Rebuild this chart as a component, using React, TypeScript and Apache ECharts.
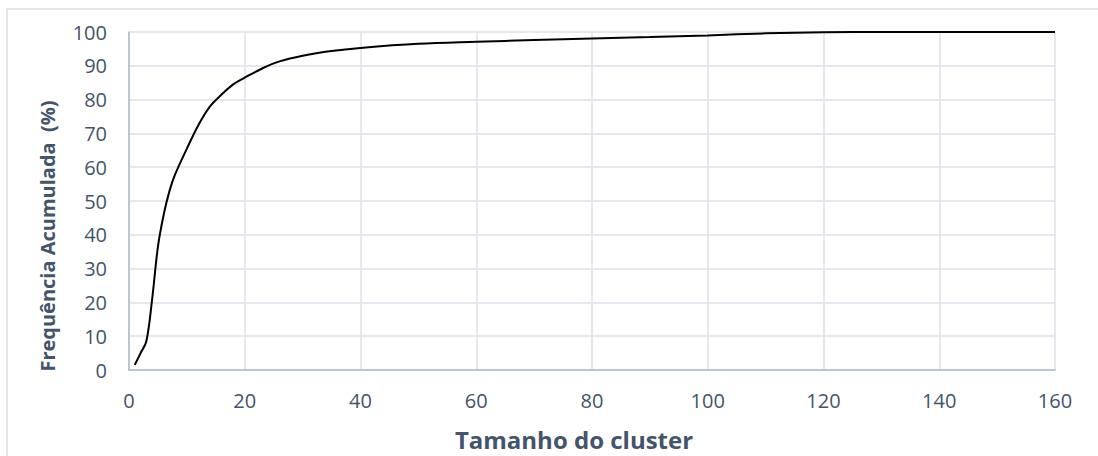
import React, { useEffect, useRef } from "react";
import * as echarts from "echarts";

const clusterSizes = [1, 2, 3, 4, 5, 6, 7, 8, 10, 12, 14, 16, 18, 20, 23, 26, 30, 35, 40, 50, 60, 70, 80, 90, 100, 110, 120, 130, 140, 150, 160];
const cumulativePct = [1.5, 5, 8.5, 21, 36.5, 46, 53, 58, 65.5, 72.5, 78, 81.5, 84.5, 86.5, 89.2, 91.3, 93, 94.4, 95.3, 96.5, 97.1, 97.6, 98.1, 98.5, 99.0, 99.6, 99.9, 100, 100, 100, 100];

const xTitle = "Tamanho do cluster";
const yTitle = "Frequência Acumulada  (%)";

const TEXT = "#44546A";
const FONT = "'Open Sans', sans-serif";

export default function App() {
  const ref = useRef<HTMLDivElement>(null);
  useEffect(() => {
    document.body.style.margin = "0";
    const chart = echarts.init(ref.current!, null, { renderer: "svg" });
    const data = clusterSizes.map((x, i) => [x, cumulativePct[i]]);
    chart.setOption({
      animation: false,
      backgroundColor: "#ffffff",
      grid: { left: 129, right: 43, top: 32, bottom: 86 },
      xAxis: {
        type: "value",
        min: 0,
        max: 160,
        interval: 20,
        axisLine: { show: true, lineStyle: { color: "#ADB9CA", width: 1.5 } },
        axisTick: { show: false },
        axisLabel: { color: TEXT, fontFamily: FONT, fontSize: 20, margin: 20 },
        splitLine: { show: true, lineStyle: { color: "#DDE2EA", width: 1.5 } },
      },
      yAxis: {
        type: "value",
        min: 0,
        max: 100,
        interval: 10,
        axisLine: { show: true, lineStyle: { color: "#ADB9CA", width: 1.5 } },
        axisTick: { show: false },
        axisLabel: { color: TEXT, fontFamily: FONT, fontSize: 20, margin: 22 },
        splitLine: { show: true, lineStyle: { color: "#DDE2EA", width: 1.5 } },
      },
      series: [
        {
          type: "line",
          data,
          smooth: 0.35,
          showSymbol: false,
          lineStyle: { color: "#000000", width: 2 },
        },
      ],
      graphic: [
        {
          type: "rect",
          shape: { x: 7, y: 9, width: 1100, height: 460 },
          style: { fill: "none", stroke: "#DCDFE4", lineWidth: 1.5 },
          silent: true,
          z: -1,
        },
        {
          type: "text",
          x: 574,
          y: 439,
          style: {
            text: xTitle,
            fill: TEXT,
            font: `bold 24px ${FONT}`,
            textAlign: "center",
            textVerticalAlign: "middle",
          },
        },
        {
          type: "text",
          x: 47,
          y: 236,
          rotation: Math.PI / 2,
          style: {
            text: yTitle,
            fill: TEXT,
            font: `bold 20px ${FONT}`,
            textAlign: "center",
            textVerticalAlign: "middle",
          },
        },
      ],
    });
    return () => chart.dispose();
  }, []);
  return <div ref={ref} style={{ width: 1098, height: 456 }} />;
}
